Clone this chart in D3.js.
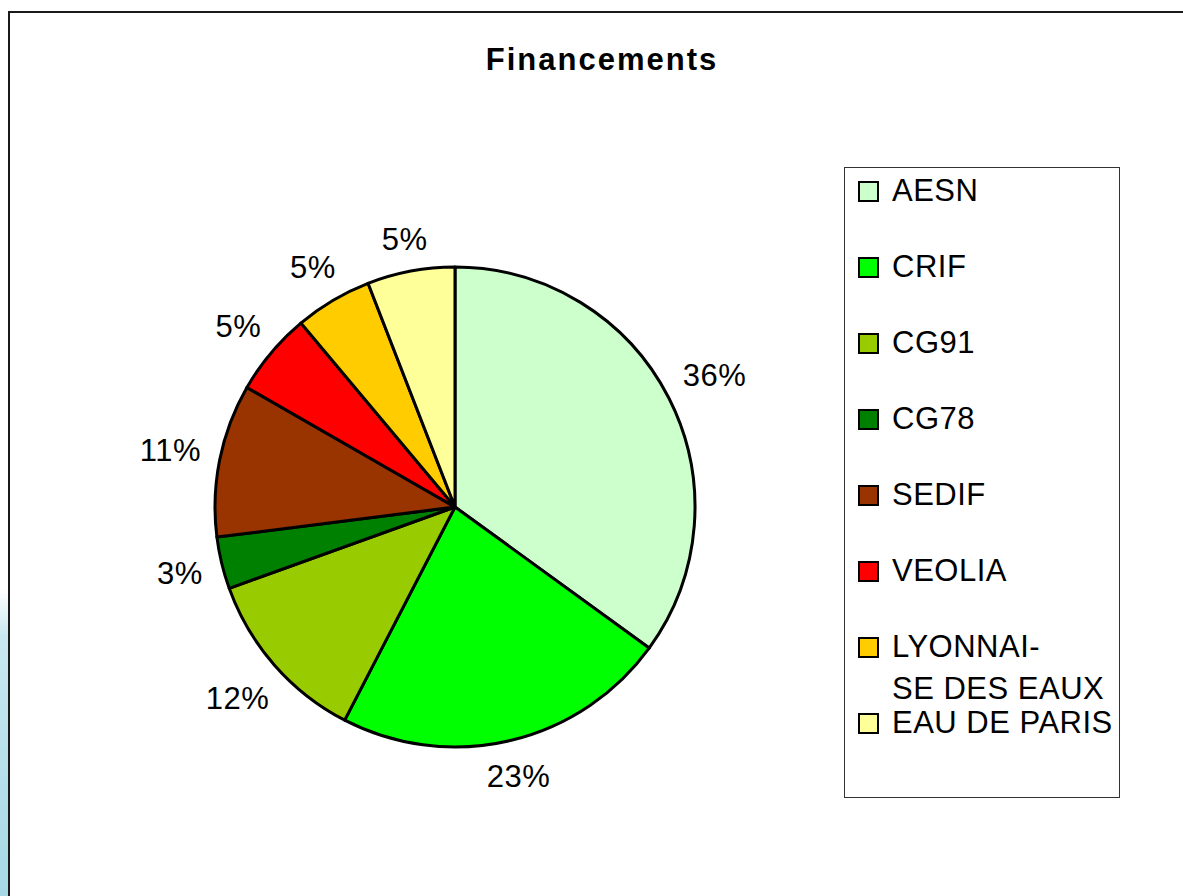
<!DOCTYPE html>
<html lang="fr">
<head>
<meta charset="UTF-8">
<title>Financements</title>
<style>
  html, body { margin: 0; padding: 0; background: #fff; }
  svg { display: block; font-family: "Liberation Sans", Arial, sans-serif; }
</style>
</head>
<body>
<svg id="chart"></svg>
<script src="https://cdnjs.cloudflare.com/ajax/libs/d3/7.8.5/d3.min.js"></script>
<script>
// ---- data ----
const categories = ["AESN", "CRIF", "CG91", "CG78", "SEDIF", "VEOLIA", "LYONNAI-\nSE DES EAUX", "EAU DE PARIS"];
const shares = [35.0, 22.6, 11.9, 3.5, 10.3, 5.6, 5.2, 5.9];
const pctLabels = ["36%", "23%", "12%", "3%", "11%", "5%", "5%", "5%"];
const colors = ["#ccffcc", "#00ff00", "#99cc00", "#008000", "#993300", "#ff0000", "#ffcc00", "#ffff99"];

const width = 1183, height = 896;
const cx = 455, cy = 507, radius = 240;
const fontSize = 31;

const svg = d3.select("#chart")
    .attr("width", width)
    .attr("height", height);

// left blue strip
const defs = svg.append("defs");
const grad = defs.append("linearGradient")
    .attr("id", "strip").attr("x1", 0).attr("y1", 0).attr("x2", 0).attr("y2", 1);
grad.append("stop").attr("offset", "0%").attr("stop-color", "#ffffff");
grad.append("stop").attr("offset", "15%").attr("stop-color", "#c8e8f0");
grad.append("stop").attr("offset", "100%").attr("stop-color", "#a6d8e6");

svg.append("rect")
    .attr("x", 0).attr("y", 590)
    .attr("width", 8).attr("height", height - 590)
    .attr("fill", "url(#strip)");

// chart frame
svg.append("rect")
    .attr("x", 9).attr("y", 12)
    .attr("width", width + 20).attr("height", height + 20)
    .attr("fill", "#fff")
    .attr("stroke", "#1a1a1a")
    .attr("stroke-width", 2);

// title
svg.append("text")
    .attr("x", 602).attr("y", 70)
    .attr("text-anchor", "middle")
    .attr("font-size", fontSize)
    .attr("font-weight", "bold")
    .attr("letter-spacing", 2)
    .text("Financements");

// pie
const pie = d3.pie().sort(null).value(d => d);
const arcs = pie(shares);
const arc = d3.arc().innerRadius(0).outerRadius(radius);

const g = svg.append("g").attr("transform", `translate(${cx},${cy})`);

g.selectAll("path.slice")
    .data(arcs)
    .join("path")
    .attr("class", "slice")
    .attr("d", arc)
    .attr("fill", (d, i) => colors[i])
    .attr("stroke", "#000")
    .attr("stroke-width", 3)
    .attr("stroke-linejoin", "round");

// percentage labels, placed just outside the rim
const gap = 18;
const capH = fontSize * 0.716;
const labels = g.selectAll("text.pct")
    .data(arcs)
    .join("text")
    .attr("class", "pct")
    .attr("text-anchor", "middle")
    .attr("font-size", fontSize)
    .attr("letter-spacing", 0.5)
    .text((d, i) => pctLabels[i]);

labels.each(function(d) {
    const w = this.getComputedTextLength();
    const mid = (d.startAngle + d.endAngle) / 2;
    const ux = Math.sin(mid), uy = -Math.cos(mid);
    const extra = (w / 2) * Math.abs(ux) + (capH / 2) * Math.abs(uy);
    const dist = radius + gap + extra;
    d3.select(this)
        .attr("x", ux * dist)
        .attr("y", uy * dist + capH / 2);
});

// legend
const legend = svg.append("g");
legend.append("rect")
    .attr("x", 844.5).attr("y", 167.5)
    .attr("width", 275).attr("height", 630)
    .attr("fill", "#fff")
    .attr("stroke", "#333")
    .attr("stroke-width", 1);

const rowStep = 76, firstBase = 201;
const items = legend.selectAll("g.item")
    .data(categories)
    .join("g")
    .attr("class", "item")
    .attr("transform", (d, i) => `translate(0,${firstBase + i * rowStep})`);

items.append("rect")
    .attr("x", 859).attr("y", -19)
    .attr("width", 19).attr("height", 19)
    .attr("fill", (d, i) => colors[i])
    .attr("stroke", "#000")
    .attr("stroke-width", 2);

items.append("text")
    .attr("font-size", fontSize)
    .attr("letter-spacing", 0.5)
    .selectAll("tspan")
    .data(d => d.split("\n"))
    .join("tspan")
    .attr("x", 892)
    .attr("y", (d, i) => i * 42)
    .text(d => d);
</script>
</body>
</html>
